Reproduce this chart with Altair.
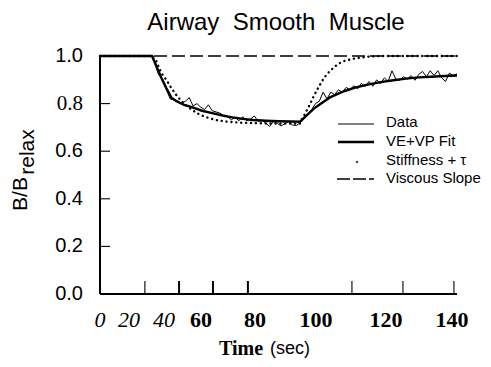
import altair as alt
import pandas as pd

# ---- values (time on the drawn scale, B/Brelax) ----
data_t = [0, 20.4, 21.5, 23, 24.5, 26, 27.5, 29, 30.5, 32, 33.5, 35,
          36.5, 38, 39.5, 41, 42.5, 44, 45.5, 47, 48.5, 50,
          51.5, 53, 54.5, 56, 57.5, 59, 60.5, 62, 63.5, 65,
          66.5, 68, 69.5, 71, 72.5, 74, 75.5, 77, 78.5, 80,
          81.5, 83, 84.5, 86, 87.5, 89, 90.5, 92, 93.5, 95,
          96.5, 98, 99.5, 101, 102.5, 104, 105.5, 107, 108.5, 110,
          111.5, 113, 114.5, 116, 117.5, 119, 120.5, 122, 123.5, 125,
          126.5, 128, 129.5, 131, 132.5, 134, 135.5, 137, 138.5, 140]
data_b = [1.0, 1.0, 0.97, 0.92, 0.905, 0.86, 0.82, 0.815, 0.812, 0.80, 0.81, 0.825,
          0.79, 0.80, 0.785, 0.775, 0.795, 0.77, 0.765, 0.76, 0.75, 0.745,
          0.732, 0.742, 0.728, 0.745, 0.728, 0.735, 0.748, 0.726, 0.73, 0.718,
          0.704, 0.725, 0.718, 0.706, 0.716, 0.725, 0.71, 0.708, 0.72, 0.735,
          0.755, 0.775, 0.80, 0.81, 0.848, 0.82, 0.848, 0.838, 0.858, 0.848,
          0.868, 0.858, 0.875, 0.862, 0.885, 0.872, 0.893, 0.873, 0.9, 0.883,
          0.908, 0.893, 0.938, 0.903, 0.898, 0.913, 0.903, 0.918, 0.898, 0.923,
          0.935, 0.913, 0.938, 0.918, 0.938, 0.908, 0.893, 0.928, 0.918, 0.925]

fit_t = [0, 20.4, 22, 24, 26, 28, 30, 33, 36, 40, 44, 48, 52, 56, 60, 65, 70, 75,
         78.4, 80, 82, 84, 86, 88, 90, 93, 96, 100, 105, 110, 115, 120, 125, 130, 135, 140]
fit_b = [1.0, 1.0, 0.96, 0.91, 0.865, 0.825, 0.81, 0.795, 0.785, 0.77, 0.76, 0.75,
         0.742, 0.736, 0.731, 0.728, 0.726, 0.725, 0.724, 0.74, 0.76, 0.78, 0.795,
         0.81, 0.825, 0.84, 0.853, 0.867, 0.88, 0.89, 0.898, 0.905, 0.91, 0.913, 0.916, 0.918]

stiff_t = [0, 20.4, 22, 24, 26, 28, 30, 32, 34, 36, 38, 40, 43, 46, 50, 55, 60, 65, 70, 75,
           78.4, 80, 82, 84, 86, 88, 90, 92, 94, 96, 100, 105, 110, 140]
stiff_b = [1.0, 1.0, 0.98, 0.93, 0.90, 0.865, 0.835, 0.81, 0.79, 0.775, 0.76, 0.75, 0.738,
           0.73, 0.724, 0.72, 0.718, 0.717, 0.716, 0.716, 0.716, 0.75, 0.79, 0.835, 0.875,
           0.91, 0.935, 0.955, 0.97, 0.98, 0.99, 0.997, 1.0, 1.0]

visc_t = [0, 140]
visc_b = [1.0, 1.0]

xtick_thin = [17.6, 98.8, 118.8, 138.8]
xtick_bold = [31.0, 44.3, 58.0]
xlab_italic_pos = [0.0, 11.4, 25.1]
xlab_italic_txt = ["0", "20", "40"]
xlab_bold_pos = [39.6, 60.8, 84.7, 112.2, 138.0]
xlab_bold_txt = ["60", "80", "100", "120", "140"]
ytick_vals = [0.2, 0.4, 0.6, 0.8]
ylab_sans_vals = [0.0, 0.2, 0.4, 0.6, 1.0]
ylab_sans_txt = ["0.0", "0.2", "0.4", "0.6", "1.0"]
ylab_serif_vals = [0.8]
ylab_serif_txt = ["0.8"]

title_txt = "Airway\u00a0\u00a0Smooth\u00a0\u00a0Muscle"
legend_labels = ["Data", "VE+VP Fit", "Stiffness + τ", "Viscous Slope"]

W, H = 357, 238
SANS = "Liberation Sans"
SERIF = "Liberation Serif"
xs = alt.Scale(domain=[0, 140], nice=False, zero=False)
ys = alt.Scale(domain=[0, 1], nice=False, zero=False)


def line(t, b, **kw):
    df = pd.DataFrame({"t": t, "b": b, "o": list(range(len(t)))})
    return alt.Chart(df).mark_line(color="black", **kw).encode(
        x=alt.X("t:Q", scale=xs, axis=None),
        y=alt.Y("b:Q", scale=ys, axis=None),
        order="o:Q",
    )


def one(txt):
    return pd.DataFrame({"s": [txt]})


visc = line(visc_t, visc_b, strokeWidth=1.3, strokeDash=[13, 5])
stiff = line(stiff_t, stiff_b, strokeWidth=2.4, strokeDash=[0.1, 4.8], strokeCap="round")
fit = line(fit_t, fit_b, strokeWidth=2.4)
dat = line(data_t, data_b, strokeWidth=1.0)

left_axis = alt.Chart(one("a")).mark_rule(color="black", strokeWidth=2).encode(
    x=alt.value(0), y=alt.value(0), y2=alt.value(H))
bottom_axis = alt.Chart(one("a")).mark_rule(color="black", strokeWidth=2.2).encode(
    x=alt.value(0), x2=alt.value(W), y=alt.value(H))

yt = alt.Chart(pd.DataFrame({"v": ytick_vals})).mark_rule(color="black", strokeWidth=1.1).encode(
    y=alt.Y("v:Q", scale=ys, axis=None), x=alt.value(0), x2=alt.value(10))
xt1 = alt.Chart(pd.DataFrame({"v": xtick_thin})).mark_rule(color="black", strokeWidth=1.1).encode(
    x=alt.X("v:Q", scale=xs, axis=None), y=alt.value(H), y2=alt.value(H - 13))
xt2 = alt.Chart(pd.DataFrame({"v": xtick_bold})).mark_rule(color="black", strokeWidth=2).encode(
    x=alt.X("v:Q", scale=xs, axis=None), y=alt.value(H), y2=alt.value(H - 13))

ylab1 = alt.Chart(pd.DataFrame({"v": ylab_sans_vals, "s": ylab_sans_txt})).mark_text(
    font=SANS, fontSize=20, align="right", baseline="middle", color="black").encode(
    y=alt.Y("v:Q", scale=ys, axis=None), x=alt.value(-17), text="s:N")
ylab2 = alt.Chart(pd.DataFrame({"v": ylab_serif_vals, "s": ylab_serif_txt})).mark_text(
    font=SERIF, fontSize=21, align="right", baseline="middle", color="black").encode(
    y=alt.Y("v:Q", scale=ys, axis=None), x=alt.value(-17), text="s:N")

xlab1 = alt.Chart(pd.DataFrame({"v": xlab_italic_pos, "s": xlab_italic_txt})).mark_text(
    font=SERIF, fontSize=22, fontStyle="italic", align="center", baseline="middle", color="black").encode(
    x=alt.X("v:Q", scale=xs, axis=None), y=alt.value(H + 26), text="s:N")
xlab2 = alt.Chart(pd.DataFrame({"v": xlab_bold_pos, "s": xlab_bold_txt})).mark_text(
    font=SERIF, fontSize=22, fontWeight="bold", align="center", baseline="middle", color="black").encode(
    x=alt.X("v:Q", scale=xs, axis=None), y=alt.value(H + 26), text="s:N")

xtitle1 = alt.Chart(one("Time")).mark_text(
    font=SERIF, fontSize=20, fontWeight="bold", align="left", baseline="middle", color="black").encode(
    x=alt.value(119), y=alt.value(H + 55), text="s:N")
xtitle2 = alt.Chart(one("(sec)")).mark_text(
    font=SANS, fontSize=18, align="left", baseline="middle", color="black").encode(
    x=alt.value(170), y=alt.value(H + 55), text="s:N")

ytitle1 = alt.Chart(one("B/B")).mark_text(
    font=SANS, fontSize=21, angle=270, align="center", baseline="alphabetic", color="black").encode(
    x=alt.value(-73), y=alt.value(138), text="s:N")
ytitle2 = alt.Chart(one("relax")).mark_text(
    font=SANS, fontSize=21, angle=270, align="center", baseline="alphabetic", color="black").encode(
    x=alt.value(-66), y=alt.value(96), text="s:N")

title = alt.Chart(one(title_txt)).mark_text(
    font=SANS, fontSize=24, align="center", baseline="alphabetic", color="black").encode(
    x=alt.value(176), y=alt.value(-26), text="s:N")

# legend
LX1, LX2, LT = 238, 274, 286
leg_y = [66, 85, 104, 122]
leg = []
leg.append(alt.Chart(one("a")).mark_rule(color="black", strokeWidth=1).encode(
    x=alt.value(LX1), x2=alt.value(LX2), y=alt.value(leg_y[0] + 2)))
leg.append(alt.Chart(one("a")).mark_rule(color="black", strokeWidth=2.4).encode(
    x=alt.value(LX1), x2=alt.value(LX2), y=alt.value(leg_y[1] + 1)))
leg.append(alt.Chart(one("a")).mark_point(color="black", filled=True, size=6, shape="circle").encode(
    x=alt.value(257), y=alt.value(leg_y[2] + 2)))
leg.append(alt.Chart(one("a")).mark_rule(color="black", strokeWidth=1.3, strokeDash=[13, 3]).encode(
    x=alt.value(LX1 - 1), x2=alt.value(LX2), y=alt.value(leg_y[3] + 1)))
for lab, yy in zip(legend_labels, leg_y):
    leg.append(alt.Chart(one(lab)).mark_text(
        font=SANS, fontSize=15, align="left", baseline="middle", color="black").encode(
        x=alt.value(LT), y=alt.value(yy), text="s:N"))

chart = alt.layer(
    visc, stiff, fit, dat, left_axis, bottom_axis, yt, xt1, xt2,
    ylab1, ylab2, xlab1, xlab2, xtitle1, xtitle2, ytitle1, ytitle2, title, *leg
).properties(
    width=W, height=H,
    autosize=alt.AutoSizeParams(type="none"),
    padding={"left": 92, "top": 48, "right": 26, "bottom": 65},
    background="white",
).configure_view(stroke=None)

chart.save("out.html", embed_options={"renderer": "svg", "actions": False})
